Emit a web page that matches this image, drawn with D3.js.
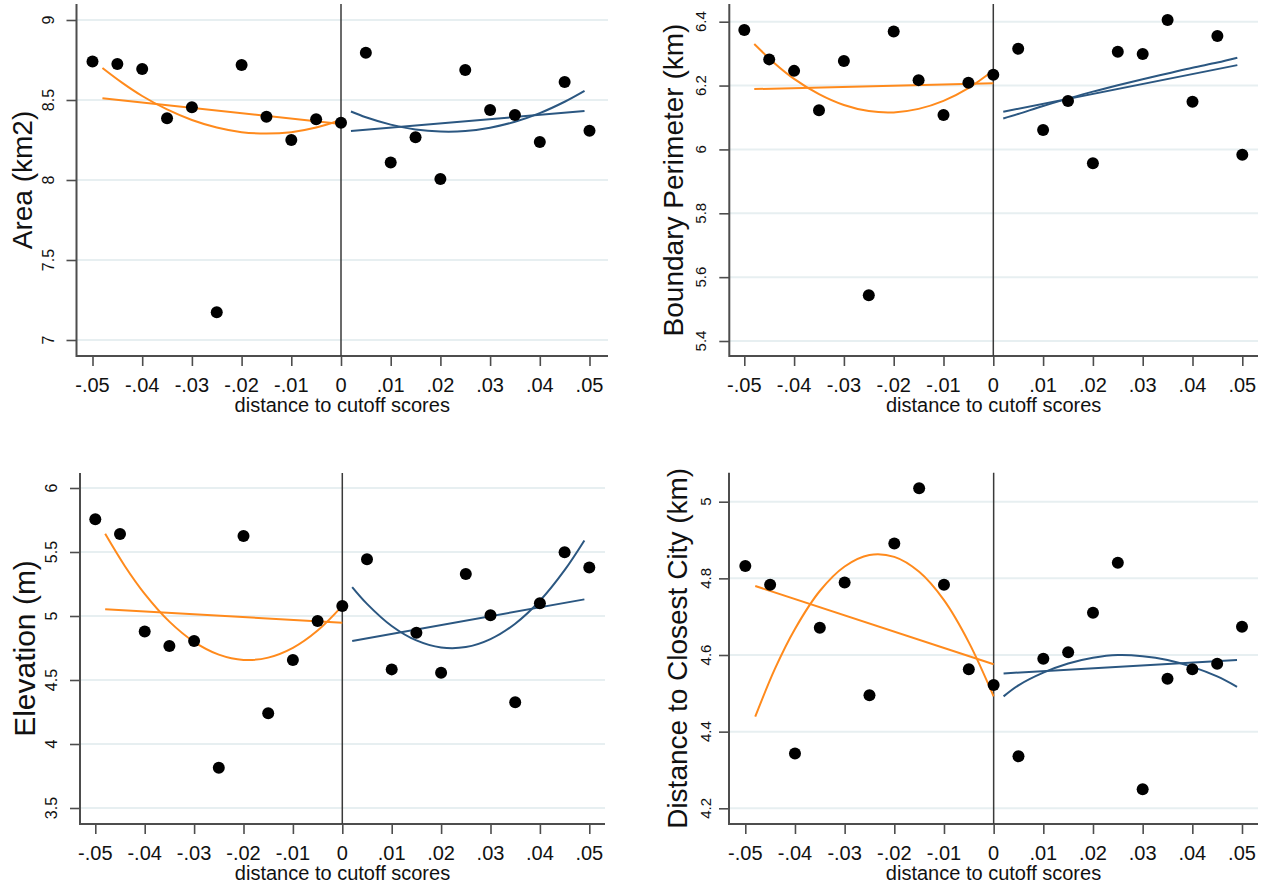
<!DOCTYPE html>
<html>
<head>
<meta charset="utf-8">
<script src="https://cdn.jsdelivr.net/npm/d3@7"></script>
<style>
  body { margin: 0; background: #fff; }
  svg { display: block; font-family: 'Liberation Sans', Arial, sans-serif; }
</style>
</head>
<body>
<svg id="chart" width="1268" height="888"></svg>
<script>
// bins of distance to cutoff
const bins = [-0.05, -0.045, -0.04, -0.035, -0.03, -0.025, -0.02, -0.015, -0.01, -0.005, 0,
  0.005, 0.01, 0.015, 0.02, 0.025, 0.03, 0.035, 0.04, 0.045, 0.05];
const xTicks = [-0.05, -0.04, -0.03, -0.02, -0.01, 0, 0.01, 0.02, 0.03, 0.04, 0.05];
const xTickLabels = ['-.05', '-.04', '-.03', '-.02', '-.01', '0', '.01', '.02', '.03', '.04', '.05'];

// bin means
const areaValues = [8.74, 8.725, 8.694, 8.386, 8.454, 7.173, 8.719, 8.396, 8.25, 8.379, 8.358,
  8.796, 8.11, 8.267, 8.006, 8.6875, 8.4375, 8.406, 8.2375, 8.6125, 8.308];
const perimeterValues = [6.374, 6.282, 6.246, 6.123, 6.277, 5.543, 6.369, 6.217, 6.108, 6.209, 6.234,
  6.315, 6.061, 6.152, 5.957, 6.306, 6.299, 6.405, 6.149, 6.355, 5.983];
const elevationValues = [5.755, 5.641, 4.878, 4.766, 4.805, 3.815, 5.625, 4.24, 4.656, 4.961, 5.078,
  5.443, 4.583, 4.87, 4.557, 5.328, 5.005, 4.326, 5.099, 5.498, 5.378];
const distanceValues = [4.832, 4.783, 4.343, 4.671, 4.789, 4.495, 4.891, 5.035, 4.783, 4.563, 4.522,
  4.336, 4.59, 4.607, 4.71, 4.841, 4.25, 4.538, 4.563, 4.577, 4.674];

// fitted lines: x positions where the fits were read
const linXLeft = [-0.048, 0];
const linXRight = [0.002, 0.049];
const quadXLeft = [-0.048, -0.044, -0.04, -0.035, -0.03, -0.025, -0.02, -0.015, -0.01, -0.005, 0];
const quadXRight = [0.002, 0.005, 0.01, 0.015, 0.02, 0.025, 0.03, 0.035, 0.04, 0.045, 0.049];

const areaLinLeft = [8.511, 8.35];
const areaLinRight = [8.306, 8.431];
const areaQuadLeft = [8.70, 8.607, 8.525, 8.441, 8.375, 8.328, 8.299, 8.29, 8.299, 8.328, 8.375];
const areaQuadRight = [8.428, 8.392, 8.346, 8.316, 8.303, 8.306, 8.327, 8.364, 8.418, 8.489, 8.557];

const perimeterLinLeft = [6.189, 6.207];
const perimeterLinRight = [6.118, 6.264];
const perimeterQuadLeft = [6.330, 6.271, 6.221, 6.173, 6.139, 6.120, 6.116, 6.127, 6.152, 6.192, 6.247];
const perimeterQuadRight = [6.097, 6.111, 6.136, 6.159, 6.181, 6.201, 6.220, 6.238, 6.256, 6.272, 6.287];

const elevationLinLeft = [5.052, 4.948];
const elevationLinRight = [4.805, 5.13];
const elevationQuadLeft = [5.642, 5.389, 5.173, 4.956, 4.798, 4.698, 4.657, 4.675, 4.751, 4.886, 5.079];
const elevationQuadRight = [5.226, 5.095, 4.922, 4.809, 4.754, 4.757, 4.819, 4.940, 5.119, 5.358, 5.590];

const distanceLinLeft = [4.78, 4.576];
const distanceLinRight = [4.552, 4.587];
const distanceQuadLeft = [4.439, 4.565, 4.668, 4.767, 4.831, 4.861, 4.856, 4.817, 4.743, 4.633, 4.492];
const distanceQuadRight = [4.492, 4.521, 4.554, 4.578, 4.593, 4.600, 4.597, 4.587, 4.569, 4.544, 4.517];

const areaTicks = [7, 7.5, 8, 8.5, 9];
const perimeterTicks = [5.4, 5.6, 5.8, 6, 6.2, 6.4];
const elevationTicks = [3.5, 4, 4.5, 5, 5.5, 6];
const distanceTicks = [4.2, 4.4, 4.6, 4.8, 5];

const orange = '#ff8a1c';
const navy = '#2b5781';

const panels = [
  {
    title: 'Area (km2)', values: areaValues, ticks: areaTicks,
    linL: areaLinLeft, linR: areaLinRight, quadL: areaQuadLeft, quadR: areaQuadRight,
    box: { left: 76.5, right: 608, top: 4, bottom: 356 },
    xr: [92.5, 589.5], yr: [340, 20],
    tickX: 48, titleX: 22, titleSize: 28, tickSize: 16
  },
  {
    title: 'Boundary Perimeter (km)', values: perimeterValues, ticks: perimeterTicks,
    linL: perimeterLinLeft, linR: perimeterLinRight, quadL: perimeterQuadLeft, quadR: perimeterQuadRight,
    box: { left: 729.3, right: 1258, top: 4, bottom: 356 },
    xr: [744.3, 1242.3], yr: [341, 21.7],
    tickX: 700, titleX: 673, titleSize: 28, tickSize: 15
  },
  {
    title: 'Elevation (m)', values: elevationValues, ticks: elevationTicks,
    linL: elevationLinLeft, linR: elevationLinRight, quadL: elevationQuadLeft, quadR: elevationQuadRight,
    box: { left: 80, right: 605, top: 473, bottom: 824 },
    xr: [95.3, 589.3], yr: [808, 488],
    tickX: 51, titleX: 24, titleSize: 30, tickSize: 16
  },
  {
    title: 'Distance to Closest City (km)', values: distanceValues, ticks: distanceTicks,
    linL: distanceLinLeft, linR: distanceLinRight, quadL: distanceQuadLeft, quadR: distanceQuadRight,
    box: { left: 729, right: 1258, top: 472.7, bottom: 824 },
    xr: [745.3, 1242], yr: [808.3, 501.7],
    tickX: 705, titleX: 677, titleSize: 28, tickSize: 15
  }
];

const svg = d3.select('#chart');

panels.forEach(p => {
  const b = p.box;
  const x = d3.scaleLinear().domain([-0.05, 0.05]).range(p.xr);
  const y = d3
    .scaleLinear()
    .domain([d3.min(p.ticks), d3.max(p.ticks)])
    .range(p.yr);

  const g = svg.append('g');

  // horizontal grid
  g.selectAll('.grid')
    .data(p.ticks)
    .enter()
    .append('line')
    .attr('x1', b.left)
    .attr('x2', b.right)
    .attr('y1', d => y(d))
    .attr('y2', d => y(d))
    .attr('stroke', '#e7eff1')
    .attr('stroke-width', 2);

  // y axis
  const yAxis = g
    .append('g')
    .attr('transform', `translate(${b.left},0)`)
    .call(d3.axisLeft(y).tickValues(p.ticks).tickSize(10).tickFormat(''));
  yAxis.select('.domain').remove();
  yAxis.selectAll('line').attr('stroke', '#4d4d4d').attr('stroke-width', 1.6);

  g.selectAll('.ylab')
    .data(p.ticks)
    .enter()
    .append('text')
    .attr('transform', d => `translate(${p.tickX},${y(d)}) rotate(-90)`)
    .attr('text-anchor', 'middle')
    .attr('dominant-baseline', 'central')
    .attr('font-size', p.tickSize)
    .attr('fill', '#111')
    .text(d => d3.format('')(+d.toFixed(1)));

  // x axis
  const xAxis = g
    .append('g')
    .attr('transform', `translate(0,${b.bottom})`)
    .call(d3.axisBottom(x).tickValues(xTicks).tickSize(10).tickFormat(''));
  xAxis.select('.domain').remove();
  xAxis.selectAll('line').attr('stroke', '#4d4d4d').attr('stroke-width', 1.6);

  g.selectAll('.xlab')
    .data(xTicks)
    .enter()
    .append('text')
    .attr('x', d => x(d))
    .attr('y', b.bottom + 29)
    .attr('text-anchor', 'middle')
    .attr('dominant-baseline', 'central')
    .attr('font-size', 20)
    .attr('fill', '#111')
    .text((d, i) => xTickLabels[i]);

  // frame lines (left + bottom)
  g.append('path')
    .attr('d', `M${b.left},${b.top}V${b.bottom}H${b.right}`)
    .attr('fill', 'none')
    .attr('stroke', '#4d4d4d')
    .attr('stroke-width', 2);

  // cutoff line
  g.append('line')
    .attr('x1', x(0))
    .attr('x2', x(0))
    .attr('y1', b.top)
    .attr('y2', b.bottom)
    .attr('stroke', '#3a3a3a')
    .attr('stroke-width', 1.5);

  // titles
  g.append('text')
    .attr('transform', `translate(${p.titleX},${(b.top + b.bottom) / 2}) rotate(-90)`)
    .attr('text-anchor', 'middle')
    .attr('dominant-baseline', 'central')
    .attr('font-size', p.titleSize)
    .attr('fill', '#111')
    .text(p.title);

  g.append('text')
    .attr('x', (b.left + b.right) / 2)
    .attr('y', b.bottom + 49)
    .attr('text-anchor', 'middle')
    .attr('dominant-baseline', 'central')
    .attr('font-size', 20)
    .attr('fill', '#111')
    .text('distance to cutoff scores');

  // fits
  const line = d3
    .line()
    .x(d => x(d[0]))
    .y(d => y(d[1]))
    .curve(d3.curveCatmullRom);

  const fits = [
    { xs: linXLeft, ys: p.linL, color: orange },
    { xs: quadXLeft, ys: p.quadL, color: orange },
    { xs: linXRight, ys: p.linR, color: navy },
    { xs: quadXRight, ys: p.quadR, color: navy }
  ];

  fits.forEach(f => {
    g.append('path')
      .datum(f.xs.map((v, i) => [v, f.ys[i]]))
      .attr('d', line)
      .attr('fill', 'none')
      .attr('stroke', f.color)
      .attr('stroke-width', 2);
  });

  // bin means
  g.selectAll('.dot')
    .data(p.values)
    .enter()
    .append('circle')
    .attr('cx', (d, i) => x(bins[i]))
    .attr('cy', d => y(d))
    .attr('r', 6)
    .attr('fill', '#000');
});
</script>
</body>
</html>
